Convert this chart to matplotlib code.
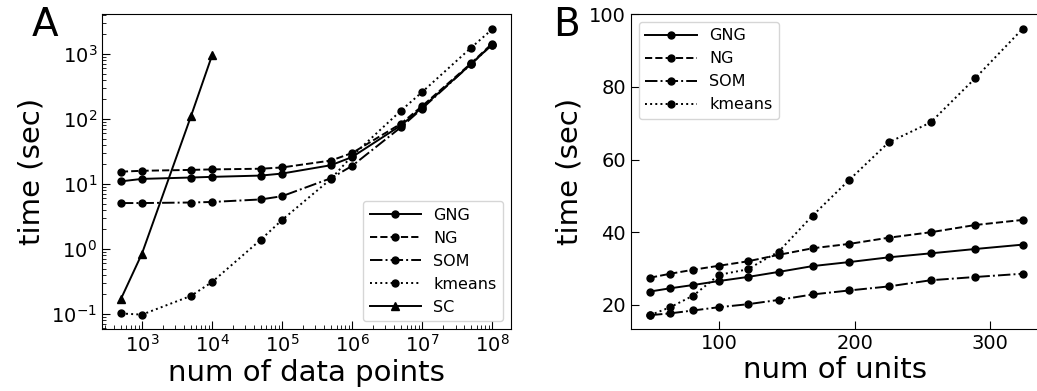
import matplotlib
matplotlib.use('Agg')
import matplotlib.pyplot as plt

# panel A: time vs number of data points
n_points = [5e2, 1e3, 5e3, 1e4, 5e4, 1e5, 5e5, 1e6, 5e6, 1e7, 5e7, 1e8]
gng_a = [11, 12, 12.6, 12.9, 13.5, 14.5, 19.5, 26, 80, 150, 700, 1400]
ng_a = [15.5, 16, 16.5, 16.8, 17.2, 18, 23, 30, 85, 158, 720, 1450]
som_a = [5.1, 5.1, 5.2, 5.3, 5.8, 6.5, 12.3, 19, 75, 145, 700, 1400]
kmeans_a = [0.102, 0.098, 0.19, 0.31, 1.4, 2.8, 12, 27, 135, 260, 1250, 2400]
sc_points = [5e2, 1e3, 5e3, 1e4]
sc_a = [0.17, 0.85, 110, 950]

# panel B: time vs number of units
n_units = [49, 64, 81, 100, 121, 144, 169, 196, 225, 256, 289, 324]
gng_b = [23.7, 24.6, 25.5, 26.6, 27.7, 29.1, 30.7, 31.8, 33.1, 34.2, 35.4, 36.6]
ng_b = [27.5, 28.6, 29.7, 30.8, 32.0, 33.8, 35.6, 36.8, 38.5, 40.0, 42.0, 43.4]
som_b = [17.2, 17.7, 18.5, 19.4, 20.2, 21.4, 22.9, 24.0, 25.1, 26.8, 27.7, 28.6]
kmeans_b = [17.2, 19.4, 22.6, 28.3, 29.8, 34.7, 44.6, 54.4, 64.7, 70.2, 82.4, 96.0]

styles = {'GNG': '-', 'NG': '--', 'SOM': '-.', 'kmeans': ':'}
kw = dict(color='black', marker='o', markersize=5, lw=1.4)

fig = plt.figure(figsize=(10.37, 3.91), dpi=100)
axA = fig.add_axes([0.0984, 0.1586, 0.3944, 0.8054])
axB = fig.add_axes([0.6085, 0.1586, 0.3935, 0.8054])

axA.plot(n_points, gng_a, ls=styles['GNG'], label='GNG', **kw)
axA.plot(n_points, ng_a, ls=styles['NG'], label='NG', **kw)
axA.plot(n_points, som_a, ls=styles['SOM'], label='SOM', **kw)
axA.plot(n_points, kmeans_a, ls=styles['kmeans'], label='kmeans', **kw)
axA.plot(sc_points, sc_a, color='black', marker='^', markersize=6, lw=1.4, label='SC')
axA.set_xscale('log')
axA.set_yscale('log')
axA.set_xlim(10**2.43, 10**8.27)
axA.set_ylim(10**-1.23, 10**3.615)
axA.set_xlabel('num of data points', fontsize=21, labelpad=2)
axA.set_ylabel('time (sec)', fontsize=21, labelpad=4)
axA.legend(loc='lower right', fontsize=11.5, handlelength=3.2)

axB.plot(n_units, gng_b, ls=styles['GNG'], label='GNG', **kw)
axB.plot(n_units, ng_b, ls=styles['NG'], label='NG', **kw)
axB.plot(n_units, som_b, ls=styles['SOM'], label='SOM', **kw)
axB.plot(n_units, kmeans_b, ls=styles['kmeans'], label='kmeans', **kw)
axB.set_xlim(35, 336)
axB.set_ylim(13.4, 100)
axB.set_xticks([100, 200, 300])
axB.set_yticks([20, 40, 60, 80, 100])
axB.set_xlabel('num of units', fontsize=21, labelpad=2)
axB.set_ylabel('time (sec)', fontsize=21, labelpad=4)
axB.legend(loc='upper left', fontsize=11.5, handlelength=3.2)

for ax in (axA, axB):
    ax.tick_params(which='both', direction='in', labelsize=14)
    ax.tick_params(which='major', length=6)
    ax.tick_params(which='minor', length=3)

fig.text(0.031, 0.985, 'A', fontsize=28, va='top')
fig.text(0.533, 0.985, 'B', fontsize=28, va='top')

fig.savefig('out.png', dpi=100)
